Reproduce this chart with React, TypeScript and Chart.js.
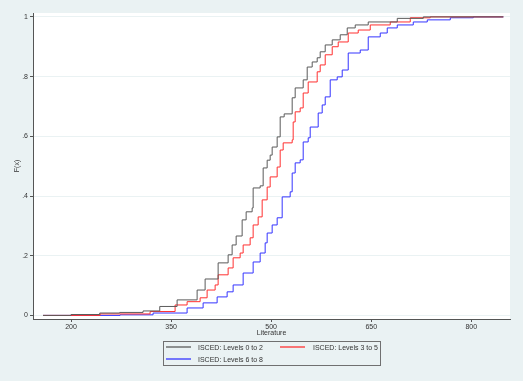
import React, { useEffect, useRef } from "react";
import { Chart, registerables } from "chart.js";

Chart.register(...registerables);

// Literature scores (x) and cumulative share F(x) for each ISCED group
const litLow = [158, 200, 243, 273, 308, 333, 359, 389, 401, 420.5, 435.5, 441.5, 447.5, 456.5, 462.5, 471.5, 473, 483.5, 488, 494, 498.5, 501.5, 509, 513.5, 519.5, 531.5, 536, 548, 554, 561.5, 569, 573.5, 581, 591.5, 603.5, 614, 626, 645.5, 689, 728, 848];
const cdfLow = [0, 0.003, 0.008, 0.01, 0.015, 0.03, 0.052, 0.085, 0.122, 0.176, 0.203, 0.236, 0.266, 0.32, 0.347, 0.36, 0.427, 0.434, 0.494, 0.52, 0.537, 0.564, 0.598, 0.665, 0.675, 0.729, 0.762, 0.789, 0.832, 0.849, 0.863, 0.883, 0.906, 0.923, 0.94, 0.963, 0.973, 0.983, 0.995, 1, 1];

const litMid = [158, 243.5, 318.5, 356, 374, 393.5, 404, 416, 420.5, 435.5, 443, 453.5, 458, 468.5, 473, 480.5, 486.5, 494, 498.5, 509, 513.5, 518, 531.5, 533, 536, 543.5, 548, 555.5, 569, 573.5, 581, 591.5, 600.5, 615.5, 630.5, 648.5, 678.5, 708.5, 738.5, 848];
const cdfMid = [0, 0.005, 0.013, 0.035, 0.046, 0.059, 0.085, 0.102, 0.136, 0.159, 0.193, 0.209, 0.236, 0.26, 0.303, 0.33, 0.387, 0.43, 0.464, 0.497, 0.554, 0.578, 0.588, 0.648, 0.682, 0.695, 0.745, 0.782, 0.816, 0.839, 0.873, 0.9, 0.916, 0.946, 0.956, 0.973, 0.983, 0.997, 1, 1];

const litHigh = [158, 273.5, 323, 374, 398, 419, 434, 443, 458, 473, 483.5, 491, 494, 501.5, 509, 516.5, 528.5, 531.5, 536, 543.5, 548, 555.5, 558.5, 570.5, 576.5, 581, 588.5, 599, 606.5, 615.5, 633.5, 645.5, 663.5, 674, 689, 713, 734, 768.5, 803, 848];
const cdfHigh = [0, 0.002, 0.008, 0.025, 0.042, 0.062, 0.079, 0.102, 0.142, 0.179, 0.209, 0.243, 0.276, 0.303, 0.327, 0.397, 0.414, 0.477, 0.511, 0.521, 0.581, 0.595, 0.631, 0.678, 0.705, 0.732, 0.789, 0.799, 0.822, 0.879, 0.889, 0.933, 0.946, 0.963, 0.973, 0.983, 0.99, 0.997, 1, 1];

const seriesLabels = ["ISCED: Levels 0 to 2", "ISCED: Levels 3 to 5", "ISCED: Levels 6 to 8"];
const seriesColors = ["#5a5a5a", "#ff3030", "#3434ff"];
const xTicks = [200, 350, 500, 650, 800];
const yTicks = [0, 0.2, 0.4, 0.6, 0.8, 1];

const FONT = '"Liberation Sans", Arial, sans-serif';
const BG = "#EAF2F3";

function toPoints(xs: number[], ys: number[]) {
  return xs.map((x, i) => ({ x, y: ys[i] }));
}

const bgPlugin = {
  id: "plotBg",
  beforeDraw(chart: any) {
    const { ctx, chartArea } = chart;
    ctx.save();
    ctx.fillStyle = BG;
    ctx.fillRect(0, 0, chart.width, chart.height);
    ctx.fillStyle = "#ffffff";
    ctx.fillRect(chartArea.left, chartArea.top, chartArea.right - chartArea.left, chartArea.bottom - chartArea.top);
    ctx.restore();
  },
};

const legendPlugin = {
  id: "boxLegend",
  afterDraw(chart: any) {
    const ctx: CanvasRenderingContext2D = chart.ctx;
    ctx.save();
    ctx.setLineDash([]);
    ctx.lineWidth = 1;
    ctx.strokeStyle = "#707070";
    ctx.strokeRect(163.5, 341.5, 217, 24);
    ctx.font = `7px ${FONT}`;
    ctx.textBaseline = "middle";
    ctx.textAlign = "left";
    const pos = [
      { lx: 166, tx: 198, y: 347.5 },
      { lx: 280, tx: 313, y: 347.5 },
      { lx: 166, tx: 198, y: 359.5 },
    ];
    for (let i = 0; i < seriesLabels.length; i++) {
      const p = pos[i];
      ctx.strokeStyle = seriesColors[i];
      ctx.lineWidth = 1.3;
      ctx.beginPath();
      ctx.moveTo(p.lx, p.y - 0.5);
      ctx.lineTo(p.lx + 25, p.y - 0.5);
      ctx.stroke();
      ctx.fillStyle = "#333333";
      ctx.fillText(seriesLabels[i], p.tx, p.y + 0.5);
    }
    ctx.restore();
  },
};

export default function App() {
  const ref = useRef<HTMLCanvasElement>(null);
  useEffect(() => {
    const canvas = ref.current;
    if (!canvas) return;
    const datasets = [
      toPoints(litLow, cdfLow),
      toPoints(litMid, cdfMid),
      toPoints(litHigh, cdfHigh),
    ].map((pts, i) => ({
      label: seriesLabels[i],
      data: pts,
      borderColor: seriesColors[i],
      backgroundColor: seriesColors[i],
      borderWidth: 1,
      pointRadius: 0,
      stepped: true as const,
      fill: false,
    }));
    const chart = new Chart(canvas, {
      type: "line",
      data: { datasets },
      plugins: [bgPlugin, legendPlugin],
      options: {
        responsive: false,
        animation: false,
        events: [],
        layout: { padding: { left: 0, top: 13, right: 13, bottom: 44 } },
        plugins: { legend: { display: false }, tooltip: { enabled: false } },
        scales: {
          x: {
            type: "linear",
            min: 143,
            max: 858,
            afterBuildTicks: (s: any) => {
              s.ticks = xTicks.map((v) => ({ value: v }));
            },
            afterFit: (s: any) => {
              s.height = 18;
            },
            grid: { drawOnChartArea: false, tickLength: 3, tickColor: "#555555" },
            border: { color: "#555555", width: 1 },
            ticks: { font: { family: FONT, size: 7 }, color: "#333333", padding: 1, maxRotation: 0 },
            title: { display: true, text: "Literature", font: { family: FONT, size: 7 }, color: "#333333", padding: 0 },
          },
          y: {
            type: "linear",
            min: -0.012,
            max: 1.013,
            afterBuildTicks: (s: any) => {
              s.ticks = yTicks.map((v) => ({ value: v }));
            },
            afterFit: (s: any) => {
              s.width = 33;
            },
            grid: { color: BG, tickLength: 3, tickColor: "#555555" },
            border: { color: "#555555", width: 1 },
            ticks: {
              font: { family: FONT, size: 7 },
              color: "#333333",
              padding: 2,
              callback: (v: any) => (v === 0 ? "0" : v === 1 ? "1" : String(Number(v).toFixed(1)).replace(/^0/, "")),
            },
            title: { display: true, text: "F(x)", font: { family: FONT, size: 7 }, color: "#333333", padding: { top: 13, bottom: 0 } },
          },
        },
      },
    });
    return () => chart.destroy();
  }, []);
  return (
    <div style={{ position: "fixed", left: 0, top: 0, width: 523, height: 381, background: BG }}>
      <canvas ref={ref} width={523} height={381} style={{ display: "block" }} />
    </div>
  );
}
